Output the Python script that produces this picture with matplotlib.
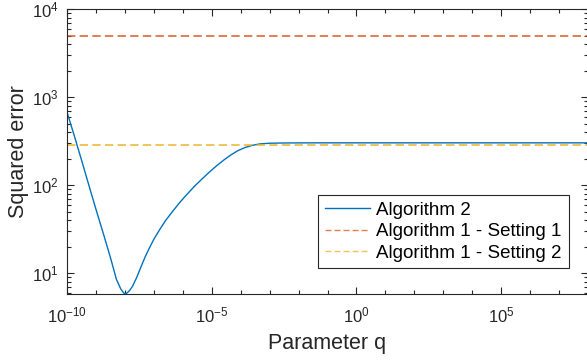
import matplotlib
matplotlib.use("Agg")
import matplotlib.pyplot as plt
from matplotlib.ticker import LogLocator, NullFormatter

plt.rcParams['font.family'] = ['Liberation Sans', 'DejaVu Sans']
plt.rcParams['mathtext.fontset'] = 'custom'
plt.rcParams['mathtext.rm'] = 'Liberation Sans'

# squared error of algorithm 2 over the parameter q
q = [1e-10, 1.8e-10, 3.2e-10, 5.6e-10, 1e-9, 1.8e-9, 3.2e-9, 5e-9,
     7.1e-9, 8.9e-9, 1e-8, 1.12e-8, 1.4e-8, 1.8e-8, 2.5e-8, 3.5e-8,
     5e-8, 7.1e-8, 1e-7, 1.6e-7, 2.5e-7, 4.7e-7, 7.9e-7, 1.35e-6,
     2.5e-6, 4.5e-6, 7.9e-6, 1.4e-5, 2.5e-5, 4.5e-5, 7.9e-5, 1.4e-4,
     2.5e-4, 4.7e-4, 1e-3, 3.2e-3, 3.2e-2, 1e8]
err_alg2 = [658, 351, 186, 99, 52, 27.5, 14.5, 8.5,
            6.6, 5.96, 5.82, 5.9, 6.3, 7.1, 8.9, 11.7,
            15.5, 19.7, 24.5, 31.6, 39.6, 51.8, 64, 78,
            97, 117, 139, 164, 191, 220, 246, 267,
            283, 294, 299, 301, 302, 302]

# constant errors of algorithm 1
err_set1 = 4950
err_set2 = 285

q_range = [1e-10, 1e8]

blue = '#0072BD'
orange = '#D95319'
yellow = '#EDB120'
axcol = '#262626'

fig = plt.figure(figsize=(5.87, 3.64), dpi=100)
ax = fig.add_axes([67.3 / 587, 70 / 364, 520.5 / 587, 285 / 364])

ax.plot(q, err_alg2, color=blue, lw=1.0, label='Algorithm 2')
ax.plot(q_range, [err_set1, err_set1], color=orange, lw=1.4, alpha=0.75,
        linestyle=(0, (4.3, 2.2)), label='Algorithm 1 - Setting 1')
ax.plot(q_range, [err_set2, err_set2], color=yellow, lw=1.4, alpha=0.75,
        linestyle=(0, (4.3, 2.2)), label='Algorithm 1 - Setting 2')

ax.set_xscale('log')
ax.set_yscale('log')
ax.set_xlim(q_range)
ax.set_ylim(5.8, 1e4)

ax.set_xticks([1e-10, 1e-5, 1e0, 1e5])
ax.xaxis.set_minor_locator(LogLocator(base=10, subs=(1.0,), numticks=40))
ax.xaxis.set_minor_formatter(NullFormatter())
ax.yaxis.set_minor_locator(LogLocator(base=10, subs=range(2, 10), numticks=20))
ax.yaxis.set_minor_formatter(NullFormatter())

ax.tick_params(which='both', direction='in', top=True, right=True,
               colors=axcol, labelsize=12, width=0.8)
ax.tick_params(which='major', length=5)
ax.tick_params(which='minor', length=3)
ax.tick_params(axis='x', pad=8)
ax.tick_params(axis='y', pad=6)
for s in ax.spines.values():
    s.set_color(axcol)
    s.set_linewidth(0.8)

ax.set_xlabel('Parameter q', fontsize=15.5, color=axcol, labelpad=6)
ax.set_ylabel('Squared error', fontsize=15.5, color=axcol, labelpad=2)

leg = ax.legend(loc='lower right', bbox_to_anchor=(0.963, 0.091),
                borderaxespad=0, fontsize=13.5, fancybox=False,
                edgecolor=axcol, framealpha=1, handlelength=2.4,
                handletextpad=0.35, borderpad=0.35, labelspacing=0.22)
leg.get_frame().set_linewidth(0.8)
for h in leg.get_lines():
    h.set_linewidth(1.0)

fig.savefig('out.png', dpi=100)
